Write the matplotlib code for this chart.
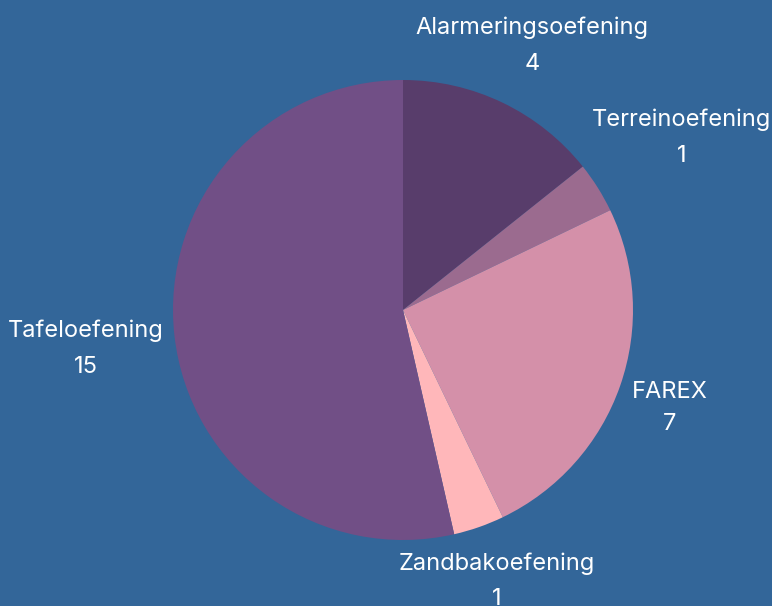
import matplotlib
matplotlib.use("Agg")
import matplotlib.pyplot as plt

categories = ["Alarmeringsoefening", "Terreinoefening", "FAREX", "Zandbakoefening", "Tafeloefening"]
values = [4, 1, 7, 1, 15]
colors = ["#583d6b", "#9b6b8f", "#d490a9", "#ffb7ba", "#714f86"]
# label centre positions (in pie-radius units, centre of pie = 0,0)
label_pos = [(0.561, 1.148), (1.213, 0.750), (1.161, -0.425), (0.409, -1.180), (-1.378, -0.170)]

bg = "#336699"
W, H = 772, 606
fig = plt.figure(figsize=(W / 100, H / 100), dpi=100, facecolor=bg)
cx, cy, R = 403, 310, 230
ax = fig.add_axes([(cx - R) / W, (H - cy - R) / H, 2 * R / W, 2 * R / H])
ax.set_facecolor(bg)
ax.pie(values, colors=colors, startangle=90, counterclock=False, radius=1,
       wedgeprops=dict(linewidth=0))
ax.set_xlim(-1, 1)
ax.set_ylim(-1, 1)
ax.set_aspect("equal")
ax.axis("off")

for name, val, (x, y) in zip(categories, values, label_pos):
    gap = 11.5 if name == "FAREX" else 13
    ax.annotate(name, xy=(x, y), xytext=(0, gap), textcoords="offset points",
                ha="center", va="center", color="white", fontsize=17,
                family="Inter", annotation_clip=False)
    ax.annotate(str(val), xy=(x, y), xytext=(0, -gap), textcoords="offset points",
                ha="center", va="center", color="white", fontsize=17,
                family="Inter", annotation_clip=False)

fig.savefig("out.png", dpi=100, facecolor=bg)
